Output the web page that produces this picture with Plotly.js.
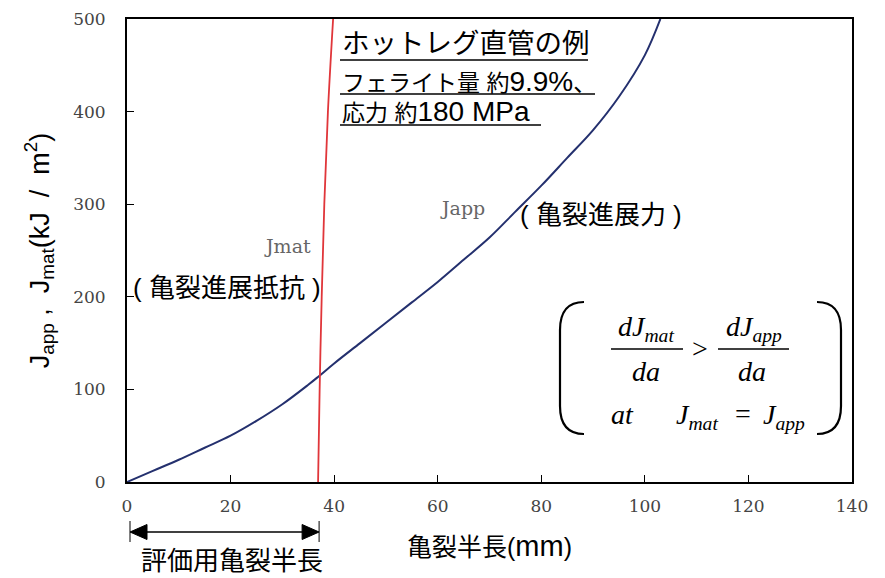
<!DOCTYPE html>
<html><head><meta charset="utf-8">
<script src="https://cdn.plot.ly/plotly-3.0.1.min.js"></script>
<style>html,body{margin:0;padding:0;background:#fff}</style>
</head><body><div id="chart" style="width:885px;height:578px"></div>
<script>
// Japp curve (crack half length mm -> kJ/m2)
const jappX = [0, 5, 10, 15, 20, 25, 30, 35, 37, 40, 45, 50, 55, 60, 65, 70, 75, 80, 85, 90, 95, 100, 103];
const jappY = [0, 12, 24, 37, 50, 66, 84, 105, 114, 128, 150, 172, 194, 216, 240, 264, 292, 320, 350, 380, 416, 461, 500];
// Jmat curve
const jmatX = [36.9, 37.2, 37.6, 38.1, 38.8, 39.8];
const jmatY = [0, 100, 200, 300, 400, 500];
const xTicks = [0, 20, 40, 60, 80, 100, 120, 140];
const yTicks = [0, 100, 200, 300, 400, 500];
const evalLen = 37; // evaluation crack half length (mm)

const M = {l: 127, r: 33, t: 19, b: 96};
const W = 885 - M.l - M.r, H = 578 - M.t - M.b;
const px = p => (p - M.l) / W;          // pixel x -> paper
const py = p => (M.t + H - p) / H;      // pixel y -> paper
const dx = v => v / 140;                // data x -> paper

const sans = 'Liberation Sans, Arial, sans-serif';
const cjk = 'Liberation Sans, Noto Sans CJK JP, sans-serif';
const serif = 'DejaVu Serif, Liberation Serif, serif';
const times = 'Liberation Serif, Times New Roman, serif';
const big = s => '<span style="font-size:28px">' + s + '</span>';

function ann(x, y, text, size, font, color, extra) {
  return Object.assign({xref: 'paper', yref: 'paper', x: px(x), y: py(y), text: text,
    showarrow: false, xanchor: 'center', yanchor: 'middle',
    font: {family: font, size: size, color: color || '#000'}}, extra || {});
}
const annotations = [
  ann(287, 246, 'Jmat', 19, serif, '#666'),
  ann(462, 208, 'Japp', 19, serif, '#666'),
  ann(227, 288, '( 亀裂進展抵抗 )', 26, cjk),
  ann(601, 215, '( 亀裂進展力 )', 26, cjk),
  ann(340, 44, 'ホットレグ直管の例', 27.5, cjk, '#000', {xanchor: 'left'}),
  ann(340, 81, 'フェライト量 約' + big('9.9%') + '、', 23, cjk, '#000', {xanchor: 'left'}),
  ann(340, 112, '応力 約' + big('180 MPa'), 23, cjk, '#000', {xanchor: 'left'}),
  ann(232, 561, '評価用亀裂半長', 26, cjk),
  // formula
  ann(646, 328, '<i>dJ<sub>mat</sub></i>', 28, times),
  ann(646, 372, '<i>da</i>', 28, times),
  ann(700, 348, '>', 28, times),
  ann(754, 328, '<i>dJ<sub>app</sub></i>', 28, times),
  ann(752, 372, '<i>da</i>', 28, times),
  ann(622, 414, '<i>at</i>', 28, times),
  ann(697, 416, '<i>J<sub>mat</sub></i>', 28, times),
  ann(743, 413, '=', 28, times),
  ann(784, 416, '<i>J<sub>app</sub></i>', 28, times)
];

function line(x0, y0, x1, y1, w) {
  return {type: 'line', xref: 'paper', yref: 'paper', x0: px(x0), y0: py(y0), x1: px(x1), y1: py(y1),
    line: {color: '#000', width: w || 1.5}};
}
function path(pts, close, w, fill) {
  let d = '';
  pts.forEach((p, i) => {
    if (p.length === 4) d += ' Q' + px(p[0]) + ',' + py(p[1]) + ' ' + px(p[2]) + ',' + py(p[3]);
    else d += (i === 0 ? 'M' : ' L') + px(p[0]) + ',' + py(p[1]);
  });
  if (close) d += ' Z';
  return {type: 'path', xref: 'paper', yref: 'paper', path: d,
    line: {color: '#000', width: w || 2}, fillcolor: fill || 'rgba(0,0,0,0)'};
}
const aL = 130, aR = M.l + dx(evalLen) * W + 0.5, aY = 532;
const shapes = [
  // underlines
  line(340, 60, 588, 60, 1.5), line(340, 94, 595, 94, 1.5), line(340, 125, 541, 125, 1.5),
  // fraction bars
  line(611, 349, 683, 349, 1.3), line(718, 349, 789, 349, 1.3),
  // parentheses
  path([[584, 302], [560, 302, 560, 330], [560, 406], [560, 434, 584, 434]], false, 2.2),
  path([[817, 302], [841, 302, 841, 330], [841, 406], [841, 434, 817, 434]], false, 2.2),
  // evaluation length arrow
  line(aL, 521, aL, 542, 1), line(aR, 521, aR, 542, 1),
  line(aL + 10, aY, aR - 10, aY, 1.5),
  path([[aL, aY], [aL + 17, aY - 7.5], [aL + 17, aY + 7.5]], true, 1, '#000'),
  path([[aR, aY], [aR - 17, aY - 7.5], [aR - 17, aY + 7.5]], true, 1, '#000')
];

const traces = [
  {x: jappX, y: jappY, type: 'scatter', mode: 'lines', name: 'Japp',
   line: {color: '#24306e', width: 2, shape: 'spline', smoothing: 1}},
  {x: jmatX, y: jmatY, type: 'scatter', mode: 'lines', name: 'Jmat',
   line: {color: '#e0363a', width: 1.8, shape: 'spline', smoothing: 1}}
];

const axisCommon = {showgrid: false, zeroline: false, showline: true, mirror: true,
  linecolor: '#000', linewidth: 2, ticks: 'inside', ticklen: 7, tickcolor: '#000', tickwidth: 1,
  tickfont: {family: serif, size: 17, color: '#444'}};

const layout = {
  width: 885, height: 578, margin: M, paper_bgcolor: '#fff', plot_bgcolor: '#fff',
  showlegend: false,
  xaxis: Object.assign({}, axisCommon, {range: [0, 140], tickvals: xTicks, ticklabelstandoff: 8,
    title: {text: '亀裂半長(<span style="font-size:29px">mm</span>)', font: {family: cjk, size: 25, color: '#000'}, standoff: 23}}),
  yaxis: Object.assign({}, axisCommon, {range: [0, 500], tickvals: yTicks, ticklabelstandoff: 16,
    title: {text: 'J<sub>app</sub> ,  J<sub>mat</sub>(kJ  /  m<sup>2</sup>)', font: {family: sans, size: 27, color: '#000'}, standoff: 16}}),
  annotations: annotations, shapes: shapes
};
Plotly.newPlot('chart', traces, layout, {displayModeBar: false, staticPlot: true});
</script></body></html>
